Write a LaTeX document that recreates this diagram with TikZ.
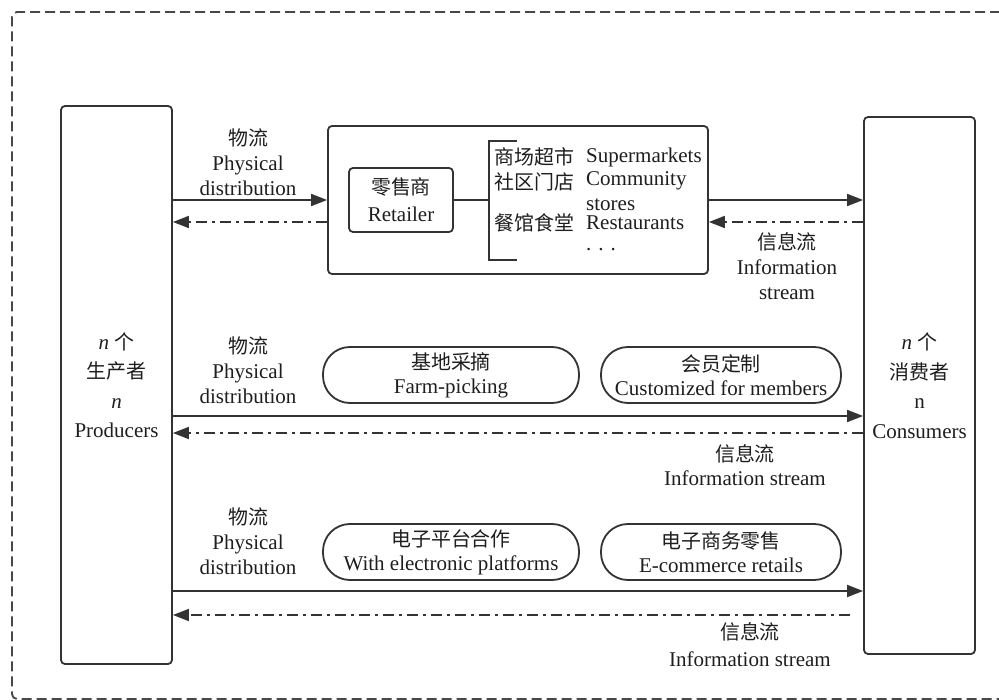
\documentclass[tikz,border=0pt]{standalone}
\usepackage{fontspec}
\setmainfont{Liberation Serif}
\newfontfamily\cjk[Scale=0.95]{Noto Sans CJK SC}
\usetikzlibrary{arrows.meta}
\definecolor{ln}{HTML}{333333}
\definecolor{tx}{HTML}{1E1E1E}
\begin{document}
\begin{tikzpicture}[x=1pt,y=-1pt,
  every node/.style={font=\fontsize{21}{25}\selectfont, text=tx, inner sep=0pt},
  box/.style={draw=ln, line width=1.8pt, rounded corners=4pt},
  pill/.style={draw=ln, line width=1.8pt, rounded corners=27pt, minimum width=256pt, minimum height=56pt, align=center, font=\fontsize{21}{24}\selectfont},
  conn/.style={draw=ln, line width=1.8pt},
  flow/.style={conn, -{Triangle[length=16pt,width=12pt]}},
  info/.style={conn, dash pattern=on 11pt off 5pt on 3pt off 5pt, -{Triangle[length=16pt,width=12pt]}},
  lbl/.style={align=center},
  frame/.style={draw=ln!90!white, line width=1.8pt, dash pattern=on 10pt off 5pt, rounded corners=5pt}
]
\useasboundingbox (0,0) rectangle (999,700);
\begin{scope}
  \clip (0,0) rectangle (999,700);
  \coordinate (ftr) at (1030,12);
  \coordinate (ftl) at (12,12);
  \coordinate (fbl) at (12,699);
  \coordinate (fbr) at (1030,699);
  \draw[frame] (ftr) -- (ftl) -- (fbl) -- (fbr);
\end{scope}

% main boxes
\node[box, minimum width=111pt, minimum height=558pt, align=center, font=\fontsize{21}{29.5}\selectfont] (prod) at (116.5,385)
  {\textit{n} {\cjk 个}\\{\cjk 生产者}\\\textit{n}\\Producers};
\node[box, minimum width=111pt, minimum height=537pt, align=center, font=\fontsize{21}{29.5}\selectfont] (cons) at (919.5,385.5)
  {\textit{n} {\cjk 个}\\{\cjk 消费者}\\n\\Consumers};

% retail group
\node[box, minimum width=380pt, minimum height=148pt] (grp) at (518,200) {};
\node[box, minimum width=104pt, minimum height=64pt, align=center, font=\fontsize{21}{27}\selectfont] (ret) at (401,200)
  {{\cjk 零售商}\\Retailer};
\coordinate (bm) at (489,200);
\coordinate (bt) at (517,141);
\coordinate (btl) at (489,141);
\coordinate (bbl) at (489,260);
\coordinate (bb) at (517,260);
\draw[conn] (ret.east) -- (bm);
\draw[conn] (bt) -- (btl) -- (bbl) -- (bb);

\node[anchor=west] (c1) at (494,157) {\cjk 商场超市};
\node[anchor=west] (e1) at (586,157) {Supermarkets};
\node[anchor=west] (c2) at (494,182) {\cjk 社区门店};
\node[anchor=west] (e2) at (586,181) {Community};
\node[anchor=west] (e2b) at (586,205) {stores};
\node[anchor=west] (c3) at (494,223) {\cjk 餐馆食堂};
\node[anchor=west] (e3) at (586,223) {Restaurants};
\node[anchor=west] (e4) at (586,250) {. . .};

% pills
\node[pill] (p1) at (451,375) {{\cjk 基地采摘}\\Farm-picking};
\node[pill, minimum width=240pt] (p2) at (721,375) {{\cjk 会员定制}\\Customized for members};
\node[pill] (p3) at (451,552) {{\cjk 电子平台合作}\\With electronic platforms};
\node[pill, minimum width=240pt] (p4) at (721,552) {{\cjk 电子商务零售}\\E-commerce retails};

% labels
\node[lbl] (pd1) at (248,162) {{\cjk 物流}\\Physical\\distribution};
\node[lbl] (pd2) at (248,370) {{\cjk 物流}\\Physical\\distribution};
\node[lbl] (pd3) at (248,541) {{\cjk 物流}\\Physical\\distribution};
\node[lbl] (is1) at (787,266) {{\cjk 信息流}\\Information\\stream};
\node[lbl, font=\fontsize{21}{24}\selectfont] (is2) at (745,465) {{\cjk 信息流}\\Information stream};
\node[lbl, font=\fontsize{21}{27}\selectfont] (is3) at (750,645) {{\cjk 信息流}\\Information stream};

% row coordinates
\coordinate (r1i) at (0,222);
\coordinate (r2s) at (0,416);
\coordinate (r2i) at (0,433);
\coordinate (r3s) at (0,591);
\coordinate (r3i) at (0,615);
\coordinate (r3e) at (850,615);

% connectors
\draw[flow] (prod.east |- grp.west) -- (grp.west);
\draw[info] (grp.west |- r1i) -- (prod.east |- r1i);
\draw[flow] (grp.east) -- (cons.west |- grp.east);
\draw[info] (cons.west |- r1i) -- (grp.east |- r1i);

\draw[flow] (prod.east |- r2s) -- (cons.west |- r2s);
\draw[info] (cons.west |- r2i) -- (prod.east |- r2i);

\draw[flow] (prod.east |- r3s) -- (cons.west |- r3s);
\draw[info] (r3e) -- (prod.east |- r3i);
\end{tikzpicture}
\end{document}
